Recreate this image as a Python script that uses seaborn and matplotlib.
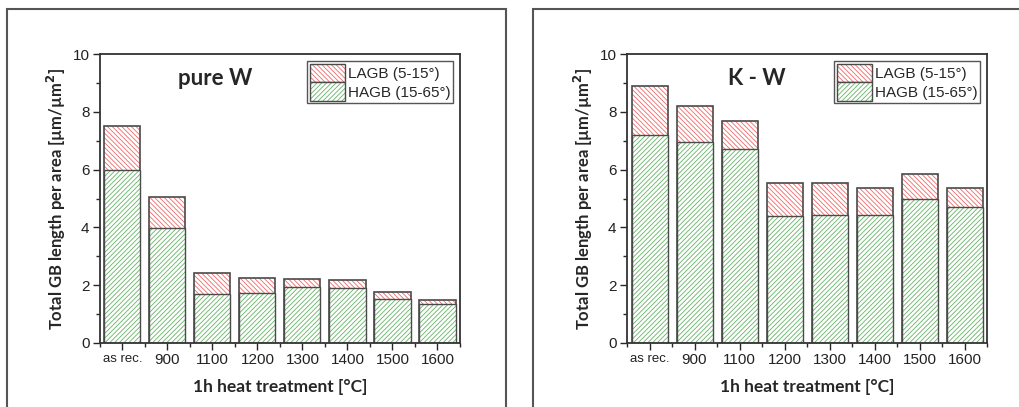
import matplotlib
matplotlib.use("Agg")
import matplotlib.pyplot as plt
import pandas as pd
import seaborn as sns
from matplotlib.patches import Patch, Rectangle
from matplotlib.legend_handler import HandlerTuple
from matplotlib.ticker import MultipleLocator

# Data
treatments = ["as rec.", "900", "1100", "1200", "1300", "1400", "1500", "1600"]
pure_w_total = [7.52, 5.05, 2.43, 2.24, 2.21, 2.19, 1.76, 1.50]
pure_w_hagb = [5.98, 3.97, 1.68, 1.72, 1.93, 1.90, 1.52, 1.35]
kw_total = [8.90, 8.20, 7.67, 5.52, 5.55, 5.35, 5.85, 5.36]
kw_hagb = [7.20, 6.97, 6.72, 4.40, 4.42, 4.42, 4.97, 4.72]

RED = "#f06868"
GREEN = "#64b464"
EDGE = "#4a4a4a"
HATCH_L = "\\" * 7
HATCH_H = "/" * 7
BOLD_FONT = ["Lato", "DejaVu Sans"]

sns.set_style("ticks")
plt.rcParams["font.family"] = ["Liberation Sans", "DejaVu Sans"]
plt.rcParams["hatch.linewidth"] = 0.6

fig = plt.figure(figsize=(10.2, 4.07), dpi=100)

# grey frames around each panel (open at the bottom / right, as in the cropped source)
fig.patches.append(Rectangle((7 / 1020, -0.1), 499 / 1020, 1.1 - 9 / 407, transform=fig.transFigure,
                             fill=False, edgecolor="#555555", linewidth=1.5))
fig.patches.append(Rectangle((533 / 1020, -0.1), 0.6, 1.1 - 9 / 407, transform=fig.transFigure,
                             fill=False, edgecolor="#555555", linewidth=1.5))


def draw_panel(ax, total, hagb, label, label_x):
    df = pd.DataFrame({"treatment": treatments, "total": total, "hagb": hagb})
    # LAGB on top: full height, red hatch
    sns.barplot(data=df, x="treatment", y="total", color="white", width=0.8,
                edgecolor=RED, linewidth=0, hatch=HATCH_L, ax=ax)
    sns.barplot(data=df, x="treatment", y="total", fill=False, width=0.8,
                edgecolor=EDGE, linewidth=1.2, ax=ax)
    # HAGB bottom part, green hatch
    sns.barplot(data=df, x="treatment", y="hagb", color="white", width=0.8,
                edgecolor=GREEN, linewidth=0, hatch=HATCH_H, ax=ax)
    sns.barplot(data=df, x="treatment", y="hagb", fill=False, width=0.8,
                edgecolor=EDGE, linewidth=1.0, ax=ax)

    ax.set_ylim(0, 10)
    ax.set_xlim(-0.5, 7.5)
    ax.yaxis.set_major_locator(MultipleLocator(2))
    ax.yaxis.set_minor_locator(MultipleLocator(1))
    ax.xaxis.set_minor_locator(MultipleLocator(1, offset=0.5))
    ax.tick_params(axis="both", which="major", direction="out", length=5, width=1,
                   labelsize=11, labelcolor="#222222", pad=2.5)
    ax.tick_params(axis="both", which="minor", direction="out", length=3, width=1)
    for t in ax.get_xticklabels():
        if t.get_text() == "as rec.":
            t.set_fontsize(9.5)
    for s in ax.spines.values():
        s.set_visible(True)
        s.set_linewidth(1.3)
        s.set_color("#333333")

    ax.set_xlabel("1h heat treatment [°C]", family=BOLD_FONT, fontweight="bold",
                  fontsize=12.5, labelpad=8)
    ax.set_ylabel("Total GB length per area [µm/µm$^\\mathbf{2}$]", family=BOLD_FONT,
                  fontweight="bold", fontsize=12, labelpad=3)
    ax.text(label_x, 0.915, label, transform=ax.transAxes, ha="center", va="center",
            family=BOLD_FONT, fontweight="bold", fontsize=16)

    h_lagb = (Patch(facecolor="white", edgecolor=RED, linewidth=0, hatch=HATCH_L),
              Patch(fill=False, edgecolor=EDGE, linewidth=1))
    h_hagb = (Patch(facecolor="white", edgecolor=GREEN, linewidth=0, hatch=HATCH_H),
              Patch(fill=False, edgecolor=EDGE, linewidth=1))
    leg = ax.legend([h_lagb, h_hagb], ["LAGB (5-15°)", "HAGB (15-65°)"],
                    handler_map={tuple: HandlerTuple(ndivide=1)},
                    loc="upper right", bbox_to_anchor=(0.98, 0.975), fontsize=11,
                    fancybox=False, framealpha=1, edgecolor="#555555",
                    handlelength=2.3, handleheight=1.45, handletextpad=0.2,
                    labelspacing=0.05, borderpad=0.15, borderaxespad=0)
    leg.get_frame().set_linewidth(1.0)


ax1 = fig.add_axes([100 / 1020, 64 / 407, 360 / 1020, 289 / 407])
ax2 = fig.add_axes([627 / 1020, 64 / 407, 360 / 1020, 289 / 407])
draw_panel(ax1, pure_w_total, pure_w_hagb, "pure W", 0.32)
draw_panel(ax2, kw_total, kw_hagb, "K - W", 0.36)

fig.savefig("out.png", dpi=100)
